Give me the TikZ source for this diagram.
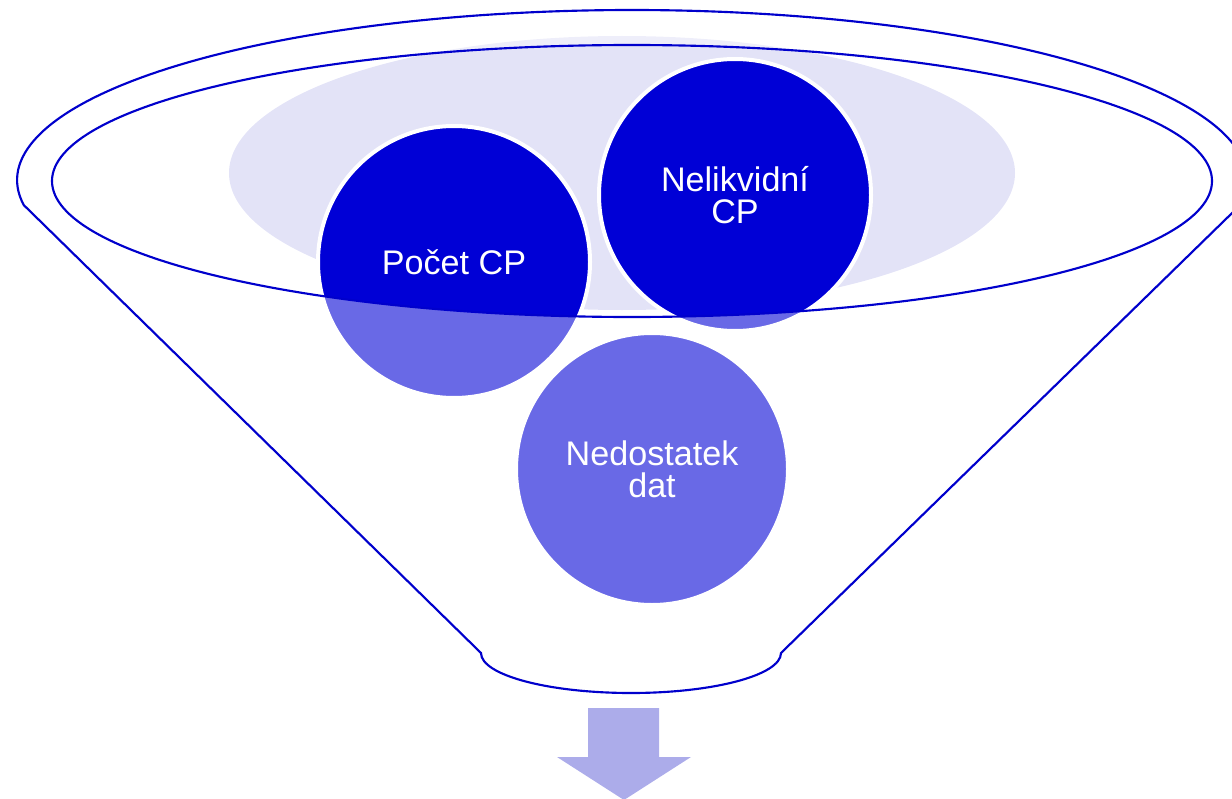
\documentclass[tikz,border=0pt]{standalone}
\usepackage{fontspec}
\setmainfont{Liberation Sans}
\definecolor{darkblue}{HTML}{0000D6}
\definecolor{lineblue}{HTML}{0000CC}
\definecolor{lavender}{HTML}{E3E3F7}
\definecolor{arrowfill}{HTML}{ACACEA}
\tikzset{
  bubble/.style={circle, fill=darkblue, draw=white, line width=3pt,
    minimum size=204pt, inner sep=0pt, text=white, align=center,
    font=\fontsize{25.6pt}{24.3pt}\selectfont},
  funnelline/.style={draw=lineblue, line width=1.6pt, line join=round},
}
\begin{document}
\begin{tikzpicture}[x=0.75pt,y=0.75pt]
\useasboundingbox (0,0) rectangle (1232,-799);
% lavender ellipse
\fill[lavender] (622,-173) ellipse[x radius=393, y radius=137];
% circles
\node[bubble] (pocet) at (454,-262) {Počet CP};
\node[bubble] (nelik) at (735,-195) {Nelikvidní\\CP};
\node[bubble] (nedost) at (652,-469) {Nedostatek\\dat};
% funnel body overlay
\fill[white, fill opacity=0.41, even odd rule]
  (23.7,-205) -- (481,-653) arc[start angle=180, end angle=360, x radius=150, y radius=40]
  -- (1240.3,-205) arc[start angle=-8.46, end angle=188.46, x radius=615, y radius=170] -- cycle
  (632,-181) ellipse[x radius=580, y radius=136];
% funnel outline
\draw[funnelline]
  (23.7,-205) -- (481,-653) arc[start angle=180, end angle=360, x radius=150, y radius=40]
  -- (1240.3,-205) arc[start angle=-8.46, end angle=188.46, x radius=615, y radius=170] -- cycle;
\draw[funnelline] (632,-181) ellipse[x radius=580, y radius=136];
% arrow
\fill[arrowfill] (588,-708) -- (659,-708) -- (659,-757) -- (691,-757) -- (624,-800)
  -- (557,-757) -- (588,-757) -- cycle;
\end{tikzpicture}
\end{document}
